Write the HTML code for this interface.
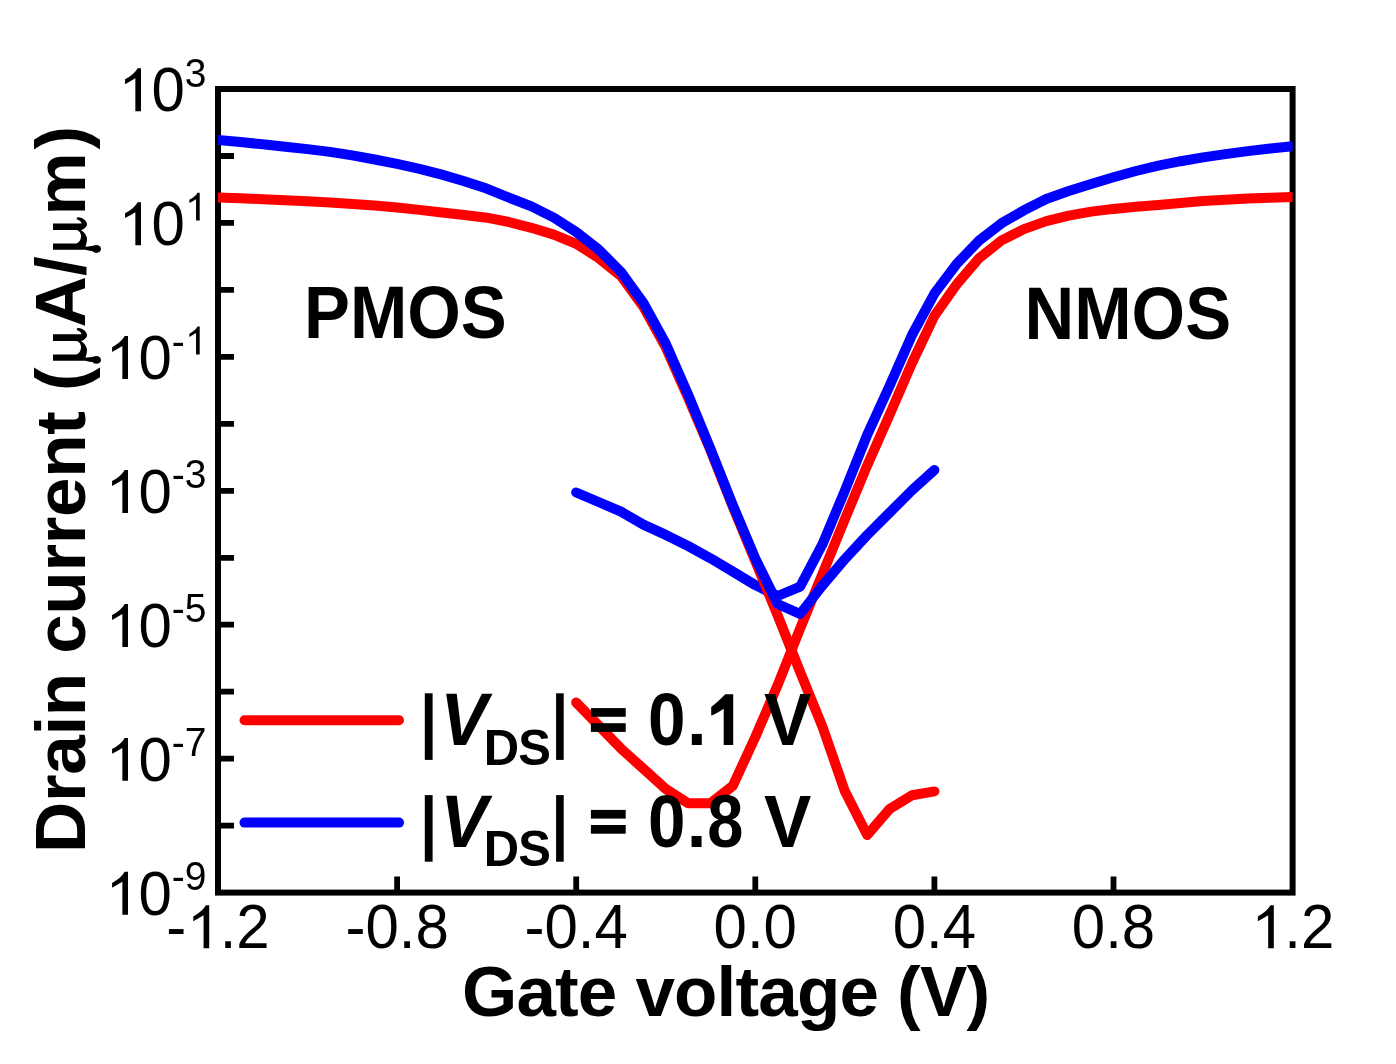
<!DOCTYPE html>
<html><head><meta charset="utf-8"><style>
html,body{margin:0;padding:0;background:#fff;width:1396px;height:1064px;overflow:hidden}
svg{display:block;will-change:transform}
text{font-family:"Liberation Sans",sans-serif}
</style></head><body>
<svg width="1396" height="1064" viewBox="0 0 1396 1064">
<rect width="1396" height="1064" fill="#fff"/>
<path d="M218,156.0H234 M218,222.9H234 M218,289.9H234 M218,356.9H234 M218,423.8H234 M218,490.8H234 M218,557.8H234 M218,624.7H234 M218,691.7H234 M218,758.7H234 M218,825.6H234 M397.1,892.6V876.5 M576.2,892.6V876.5 M755.3,892.6V876.5 M934.4,892.6V876.5 M1113.5,892.6V876.5" stroke="#000" stroke-width="5.8" fill="none"/>
<rect x="218.0" y="89.0" width="1074.6" height="803.6" fill="none" stroke="#000" stroke-width="6"/>
<clipPath id="c"><rect x="218.0" y="0" width="1074.6" height="1064"/></clipPath>
<g clip-path="url(#c)" fill="none" stroke-width="10" stroke-linejoin="round" stroke-linecap="round">
<polyline points="576.2,702.4 598.6,725.5 621.0,748.6 643.4,768.7 665.8,789.0 688.1,803.3 710.5,803.3 732.9,785.7 755.3,737.0 777.7,685.0 800.1,628.6 822.5,573.9 844.9,519.1 867.2,465.4 889.6,414.7 912.0,363.0 934.4,315.9 956.8,284.2 979.2,258.1 1001.6,240.4 1023.9,229.1 1046.3,221.1 1068.7,215.6 1091.1,211.6 1113.5,208.9 1135.9,206.8 1158.3,204.9 1180.7,202.9 1203.0,201.1 1225.4,199.7 1247.8,198.6 1270.2,197.7 1292.6,197.1" stroke="#ff0000"/>
<polyline points="576.2,492.5 598.6,502.0 621.0,511.7 643.4,524.6 665.8,534.9 688.1,546.0 710.5,558.3 732.9,571.6 755.3,585.1 777.7,596.0 800.1,586.6 822.5,544.2 844.9,490.6 867.2,434.9 889.6,385.9 912.0,335.0 934.4,293.6 956.8,263.7 979.2,240.5 1001.6,223.2 1023.9,210.3 1046.3,199.0 1068.7,191.0 1091.1,184.0 1113.5,177.3 1135.9,171.0 1158.3,165.6 1180.7,161.2 1203.0,157.4 1225.4,154.1 1247.8,151.1 1270.2,148.5 1292.6,146.2" stroke="#0000ff"/>
<polyline points="218.0,197.4 240.4,198.3 262.8,199.2 285.2,200.2 307.5,201.3 329.9,202.6 352.3,204.0 374.7,205.6 397.1,207.5 419.5,209.9 441.9,212.5 464.3,215.0 486.7,217.7 509.0,222.0 531.4,227.8 553.8,234.6 576.2,243.8 598.6,258.0 621.0,276.0 643.4,306.9 665.8,347.4 688.1,397.6 710.5,450.3 732.9,507.0 755.3,561.0 777.7,615.5 800.1,671.9 822.5,726.9 844.9,791.3 867.2,835.0 889.6,809.0 912.0,795.2 934.4,791.4" stroke="#ff0000"/>
<polyline points="218.0,140.0 240.4,142.1 262.8,144.3 285.2,146.7 307.5,149.1 329.9,151.9 352.3,155.4 374.7,159.5 397.1,163.9 419.5,168.8 441.9,174.6 464.3,181.2 486.7,188.6 509.0,197.7 531.4,206.4 553.8,217.6 576.2,232.0 598.6,249.5 621.0,272.0 643.4,302.9 665.8,343.7 688.1,394.6 710.5,448.8 732.9,505.3 755.3,558.4 777.7,604.0 800.1,614.0 822.5,585.5 844.9,559.1 867.2,535.0 889.6,512.6 912.0,490.3 934.4,470.0" stroke="#0000ff"/>
</g>
<path d="M244.5,720.3H399" stroke="#ff0000" stroke-width="10" stroke-linecap="round"/>
<path d="M244.5,822.6H399" stroke="#0000ff" stroke-width="10" stroke-linecap="round"/>
<g fill="#000">
<g transform="translate(0,111.20) scale(1,1.035)"><path transform="translate(118.07,0.00) scale(0.02930,-0.02831)" d="M590,0V1126Q411,1016 239,922V1089Q554,1254 668,1466H782V0Z"/>
<text x="151.44" y="0.00" font-size="60">0</text>
<text x="184.81" y="-23.70" font-size="39">3</text></g>
<g transform="translate(0,245.13) scale(1,1.035)"><path transform="translate(118.07,0.00) scale(0.02930,-0.02831)" d="M590,0V1126Q411,1016 239,922V1089Q554,1254 668,1466H782V0Z"/>
<text x="151.44" y="0.00" font-size="60">0</text>
<path transform="translate(184.81,-23.70) scale(0.01904,-0.01840)" d="M590,0V1126Q411,1016 239,922V1089Q554,1254 668,1466H782V0Z"/></g>
<g transform="translate(0,379.07) scale(1,1.035)"><path transform="translate(105.08,0.00) scale(0.02930,-0.02831)" d="M590,0V1126Q411,1016 239,922V1089Q554,1254 668,1466H782V0Z"/>
<text x="138.45" y="0.00" font-size="60">0</text>
<path transform="translate(184.81,-23.70) scale(0.01904,-0.01840)" d="M590,0V1126Q411,1016 239,922V1089Q554,1254 668,1466H782V0Z"/>
<text x="171.82" y="-23.70" font-size="39">-</text></g>
<g transform="translate(0,513.00) scale(1,1.035)"><path transform="translate(105.08,0.00) scale(0.02930,-0.02831)" d="M590,0V1126Q411,1016 239,922V1089Q554,1254 668,1466H782V0Z"/>
<text x="138.45" y="0.00" font-size="60">0</text>
<text x="171.82 184.81" y="-23.70" font-size="39">-3</text></g>
<g transform="translate(0,646.93) scale(1,1.035)"><path transform="translate(105.08,0.00) scale(0.02930,-0.02831)" d="M590,0V1126Q411,1016 239,922V1089Q554,1254 668,1466H782V0Z"/>
<text x="138.45" y="0.00" font-size="60">0</text>
<text x="171.82 184.81" y="-23.70" font-size="39">-5</text></g>
<g transform="translate(0,780.87) scale(1,1.035)"><path transform="translate(105.08,0.00) scale(0.02930,-0.02831)" d="M590,0V1126Q411,1016 239,922V1089Q554,1254 668,1466H782V0Z"/>
<text x="138.45" y="0.00" font-size="60">0</text>
<text x="171.82 184.81" y="-23.70" font-size="39">-7</text></g>
<g transform="translate(0,914.80) scale(1,1.035)"><path transform="translate(105.08,0.00) scale(0.02930,-0.02831)" d="M590,0V1126Q411,1016 239,922V1089Q554,1254 668,1466H782V0Z"/>
<text x="138.45" y="0.00" font-size="60">0</text>
<text x="171.82 184.81" y="-23.70" font-size="39">-9</text></g>
<g transform="translate(0,948.3) scale(1,1.035)"><path transform="translate(186.29,0.00) scale(0.02930,-0.02831)" d="M590,0V1126Q411,1016 239,922V1089Q554,1254 668,1466H782V0Z"/>
<text x="166.31 219.66 236.33" y="0.00" font-size="60">-.2</text></g>
<g transform="translate(0,948.3) scale(1,1.035)"><text x="345.41 365.39 398.76 415.43" y="0.00" font-size="60">-0.8</text></g>
<g transform="translate(0,948.3) scale(1,1.035)"><text x="524.51 544.49 577.86 594.53" y="0.00" font-size="60">-0.4</text></g>
<g transform="translate(0,948.3) scale(1,1.035)"><text x="713.60 746.97 763.63" y="0.00" font-size="60">0.0</text></g>
<g transform="translate(0,948.3) scale(1,1.035)"><text x="892.70 926.07 942.73" y="0.00" font-size="60">0.4</text></g>
<g transform="translate(0,948.3) scale(1,1.035)"><text x="1071.80 1105.17 1121.83" y="0.00" font-size="60">0.8</text></g>
<g transform="translate(0,948.3) scale(1,1.035)"><path transform="translate(1250.90,0.00) scale(0.02930,-0.02831)" d="M590,0V1126Q411,1016 239,922V1089Q554,1254 668,1466H782V0Z"/>
<text x="1284.27 1300.93" y="0.00" font-size="60">.2</text></g>
<text transform="translate(304,337.8) scale(0.97,1.035)" font-size="71" font-weight="bold">PMOS</text>
<text transform="translate(1024.5,338.8) scale(0.97,1.035)" font-size="71" font-weight="bold">NMOS</text>
<rect x="424.8" y="693.3" width="7.8" height="66.6"/>
<rect x="556.1" y="693.3" width="7.6" height="66.6"/>
<rect x="590.9" y="708.1" width="34.8" height="8.7"/>
<rect x="590.9" y="723.2" width="34.8" height="8.7"/>
<text transform="translate(440.17,745.00) scale(1.0,1.039)" font-size="71" font-weight="bold" font-style="italic">V</text>
<text transform="translate(483.82,764.50) scale(1.0,1.036)" font-size="49" font-weight="bold">D</text>
<text transform="translate(518.19,764.50) scale(1.0,1.036)" font-size="49" font-weight="bold">S</text>
<text transform="translate(648.03,745.00) scale(0.95,1.039)" font-size="71" font-weight="bold">0</text>
<text transform="translate(687.08,745.00) scale(1.0,1.039)" font-size="71" font-weight="bold">.</text>
<path transform="translate(706.50,745.00) scale(0.03467,-0.03467)" d="M496,0V1047Q256,885 136,848V1096Q313,1235 542,1466H770V0Z"/>
<text transform="translate(764.01,745.00) scale(1.0,1.039)" font-size="71" font-weight="bold">V</text>
<rect x="424.8" y="795.1" width="7.8" height="66.6"/>
<rect x="556.1" y="795.1" width="7.6" height="66.6"/>
<rect x="590.9" y="809.9" width="34.8" height="8.7"/>
<rect x="590.9" y="825.0" width="34.8" height="8.7"/>
<text transform="translate(440.17,846.80) scale(1.0,1.039)" font-size="71" font-weight="bold" font-style="italic">V</text>
<text transform="translate(483.82,866.30) scale(1.0,1.036)" font-size="49" font-weight="bold">D</text>
<text transform="translate(518.19,866.30) scale(1.0,1.036)" font-size="49" font-weight="bold">S</text>
<text transform="translate(648.03,846.80) scale(0.95,1.039)" font-size="71" font-weight="bold">0</text>
<text transform="translate(686.68,846.80) scale(1.0,1.039)" font-size="71" font-weight="bold">.</text>
<text transform="translate(707.24,846.80) scale(0.915,1.039)" font-size="71" font-weight="bold">8</text>
<text transform="translate(764.01,846.80) scale(1.0,1.039)" font-size="71" font-weight="bold">V</text>
<text x="462.00 516.40 555.05 577.87 616.52 635.42 674.08 716.62 735.51 758.33 796.98 839.52 878.18 897.07 919.89 966.41" y="1016.00" font-size="71" font-weight="bold">Gate voltage (V)</text>
<g transform="translate(85,853) rotate(-90)"><text x="0.00 50.94 78.24 117.40 136.80 179.84 199.23 238.39 281.43 308.73 336.03 375.19 418.23" y="0.00" font-size="71" font-weight="bold">Drain current</text>
<text x="461.96" y="0" font-size="71" font-weight="bold">(</text>
<text x="525.43" y="0" font-size="71" font-weight="bold">A</text>
<text x="576.91" y="0" font-size="71" font-weight="bold">/</text>
<text x="637.52" y="0" font-size="71" font-weight="bold">m</text>
<text x="703.43" y="0" font-size="71" font-weight="bold">)</text>
<g transform="translate(489.50,0)"><path d="M2.8,-32H9.1V-9.1C9.6,-3.5 20.5,-1.5 22.5,-8.3V-32H29.2V-3.5C31,-3.8 32.5,-5.5 33.2,-7.8C34,-8.8 35.8,-8.2 35.4,-6.5C35.2,-2 31.8,1.6 28.6,2C26.5,2.2 24,0 22.3,-3.9C21,-1 16,2.5 12.8,2C10,1.7 8,1.2 5.9,0.4C6.2,3 6.5,6.5 7.1,8.7L1.2,9.5L1.8,4.7L2.8,0Z"/><ellipse cx="3.6" cy="11.4" rx="3.9" ry="4.6"/></g>
<g transform="translate(600.40,0)"><path d="M2.8,-32H9.1V-9.1C9.6,-3.5 20.5,-1.5 22.5,-8.3V-32H29.2V-3.5C31,-3.8 32.5,-5.5 33.2,-7.8C34,-8.8 35.8,-8.2 35.4,-6.5C35.2,-2 31.8,1.6 28.6,2C26.5,2.2 24,0 22.3,-3.9C21,-1 16,2.5 12.8,2C10,1.7 8,1.2 5.9,0.4C6.2,3 6.5,6.5 7.1,8.7L1.2,9.5L1.8,4.7L2.8,0Z"/><ellipse cx="3.6" cy="11.4" rx="3.9" ry="4.6"/></g></g>
</g>
</svg></body></html>
